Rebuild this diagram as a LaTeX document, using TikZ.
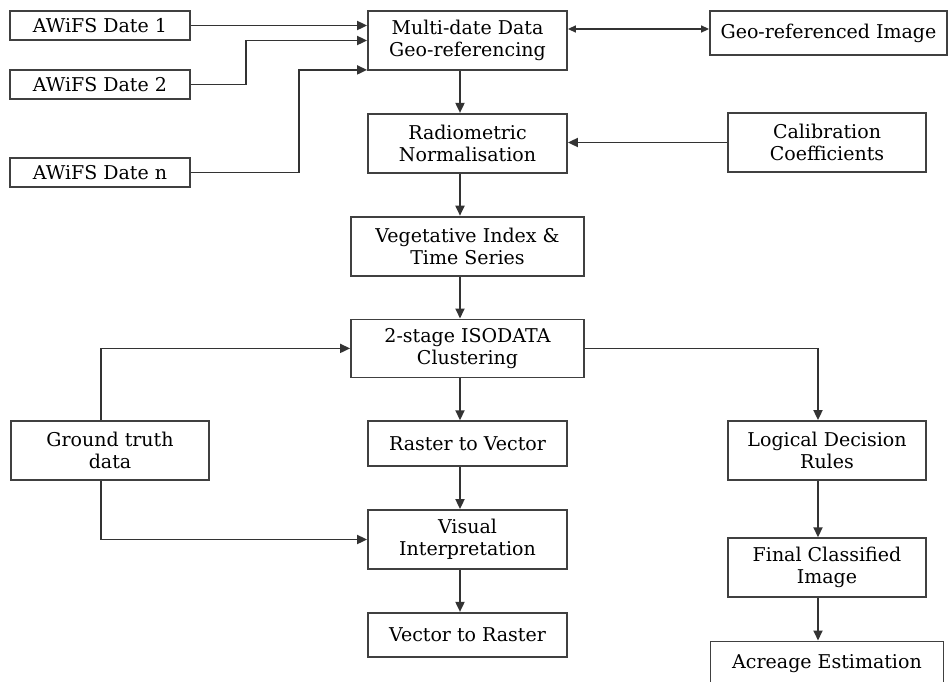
\documentclass[tikz,border=0pt]{standalone}
\usepackage{fontspec}
\setmainfont{DejaVu Serif}
\usetikzlibrary{positioning, arrows.meta}

\begin{document}
\begin{tikzpicture}[
  x=0.5pt, y=-0.5pt,
  node distance=21pt,
  box/.style={rectangle, draw=black!75, line width=0.9pt, fill=white,
              font=\fontsize{9.5}{11}\selectfont, align=center,
              inner sep=1pt, minimum height=29.5pt},
  src/.style={box, minimum width=90pt, minimum height=14.5pt},
  main/.style={box, minimum width=99.5pt},
  wide/.style={box, minimum width=116.5pt},
  side/.style={box, minimum width=99pt},
  arr/.style={-{Triangle[length=5pt,width=4.5pt]}, draw=black!80, line width=0.9pt},
  dbl/.style={{Triangle[length=4pt,width=3.5pt]}-{Triangle[length=4pt,width=3.5pt]},
              draw=black!80, line width=0.7pt}
]
  \path[use as bounding box, clip] (0,0) rectangle (949,681);

  % AWiFS inputs
  \node[src] (d1) at (100,25.5)  {AWiFS Date 1};
  \node[src] (d2) at (100,84.5)  {AWiFS Date 2};
  \node[src] (dn) at (100,172.5) {AWiFS Date n};

  % Main chain
  \node[main] (mdg) at (467.5,40.5) {Multi-date Data\\Geo-referencing};
  \node[main, below=of mdg] (rad) {Radiometric\\Normalisation};
  \node[wide, below=of rad] (veg) {Vegetative Index \&\\Time Series};
  \node[wide, below=of veg, minimum height=29pt] (iso) {2-stage ISODATA\\Clustering};
  \node[main, below=of iso, minimum height=22.5pt] (r2v) {Raster to Vector};
  \node[main, below=of r2v] (vis) {Visual\\Interpretation};
  \node[main, below=of vis, minimum height=22pt] (v2r) {Vector to Raster};

  % Side boxes
  \node[box, minimum width=118.5pt, minimum height=22pt] (geo) at (828.5,33) {Geo-referenced Image};
  \node[side] (cal) at (827,142.5) {Calibration\\Coefficients};
  \node[side] (gt)  at (110,450.5) {Ground truth\\data};
  \node[side] (log) at (827,450.5) {Logical Decision\\Rules};
  \node[side, below=28.2pt of log] (fin) {Final Classified\\Image};
  \node[box, minimum width=116.5pt, minimum height=22pt, below=21.2pt of fin] (acr) {Acreage Estimation};

  % Arrow columns
  \coordinate (mx) at (460,0);
  \coordinate (rx) at (818,0);
  \coordinate (gx) at (101,0);
  \coordinate (gw) at ([yshift=2pt]geo.west);

  % Inputs into geo-referencing
  \draw[arr] (d1.east) -- (mdg.west |- d1.east);
  \draw[arr] (d2.east) -- ++(55,0) |- (mdg.west);
  \draw[arr] (dn.east) -- ++(108,0) |- ([yshift=0.5pt]mdg.south west);
  \draw[dbl] (mdg.east |- gw) -- (gw);

  % Down the main chain
  \foreach \a/\b in {mdg/rad, rad/veg, veg/iso, iso/r2v, r2v/vis, vis/v2r}
    \draw[arr] (\a.south -| mx) -- (\b.north -| mx);
  \draw[arr] (cal.west) -- (rad.east |- cal.west);

  % Classification branch
  \draw[arr] (iso.east) -| (log.north -| rx);
  \draw[arr] (log.south -| rx) -- (fin.north -| rx);
  \draw[arr] (fin.south -| rx) -- (acr.north -| rx);

  % Ground truth
  \draw[arr] (gt.north -| gx) |- (iso.west);
  \draw[arr] (gt.south -| gx) |- (vis.west);
\end{tikzpicture}
\end{document}
